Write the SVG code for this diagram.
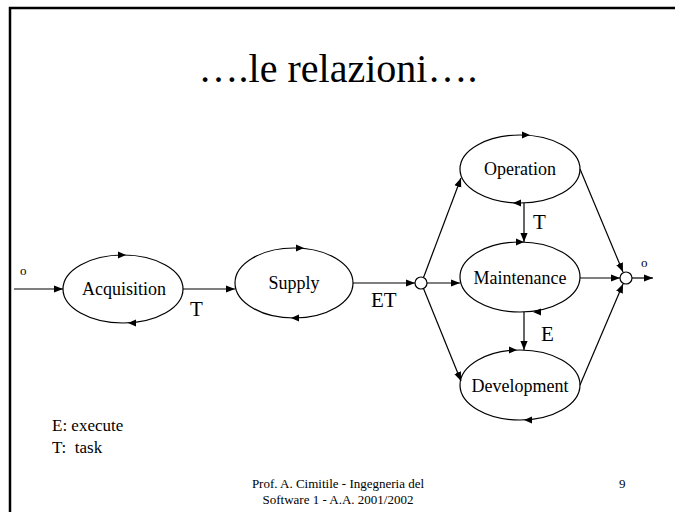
<svg xmlns="http://www.w3.org/2000/svg" width="675" height="512" viewBox="0 0 675 512">
<defs>
<marker id="ah" viewBox="0 0 10 10" refX="10" refY="5" markerWidth="9" markerHeight="9" markerUnits="userSpaceOnUse" orient="auto"><path d="M0,1 L10,5 L0,9 z" fill="#000"/></marker>
</defs>
<style>
.n{fill:#fff;stroke:#000;stroke-width:1.2}
.c{fill:none;stroke:#000;stroke-width:1.2}
text{font-family:'Liberation Serif','Times New Roman','DejaVu Serif',serif;fill:#000;white-space:pre}
.nl{font-size:18px;text-anchor:middle}
.lb{font-size:21px}
.tip{fill:#000}
</style>
<rect width="675" height="512" fill="#fff"/>
<path d="M10,520 L10,8 L680,8" fill="none" stroke="#000" stroke-width="2.5"/>
<text x="338" y="82" font-size="40" text-anchor="middle">….le relazioni….</text>

<g id="acquisition">
<ellipse class="n" cx="123" cy="289" rx="60" ry="34"/>
<path class="tip" d="M126,255 L118,251.5 L118,258.5 z"/>
<path class="tip" d="M128,323 L136,319.5 L136,326.5 z"/>
<text class="nl" x="124" y="295">Acquisition</text>
</g>
<g id="supply">
<ellipse class="n" cx="294" cy="283" rx="59" ry="35"/>
<path class="tip" d="M304,248 L296,244.5 L296,251.5 z"/>
<path class="tip" d="M291,318 L299,314.5 L299,321.5 z"/>
<text class="nl" x="294" y="289">Supply</text>
</g>
<g id="operation">
<ellipse class="n" cx="520" cy="169" rx="60" ry="34"/>
<path class="tip" d="M530,135 L522,131.5 L522,138.5 z"/>
<path class="tip" d="M513,203 L521,199.5 L521,206.5 z"/>
<text class="nl" x="520" y="175">Operation</text>
</g>
<g id="maintenance">
<ellipse class="n" cx="520" cy="277" rx="60" ry="35"/>
<path class="tip" d="M524,242 L516,238.5 L516,245.5 z"/>
<path class="tip" d="M533,312 L541,308.5 L541,315.5 z"/>
<text class="nl" x="520" y="284">Maintenance</text>
</g>
<g id="development">
<ellipse class="n" cx="520" cy="385" rx="60" ry="35"/>
<path class="tip" d="M517,350 L509,346.5 L509,353.5 z"/>
<path class="tip" d="M524,420 L532,416.5 L532,423.5 z"/>
<text class="nl" x="520" y="392">Development</text>
</g>
<g id="junction-in">
<circle class="n" cx="421" cy="283" r="6"/>
</g>
<g id="junction-out">
<circle class="n" cx="626" cy="278" r="6"/>
</g>

<g id="connectors">
<line class="c" x1="14" y1="289" x2="63" y2="289" marker-end="url(#ah)"/>
<line class="c" x1="183" y1="289" x2="235" y2="289" marker-end="url(#ah)"/>
<line class="c" x1="353" y1="283" x2="415" y2="283" marker-end="url(#ah)"/>
<line class="c" x1="427" y1="283" x2="460" y2="283" marker-end="url(#ah)"/>
<line class="c" x1="423.5" y1="277.5" x2="461" y2="178" marker-end="url(#ah)"/>
<line class="c" x1="423.5" y1="288.5" x2="461" y2="381" marker-end="url(#ah)"/>
<line class="c" x1="524" y1="203" x2="524" y2="242" marker-end="url(#ah)"/>
<line class="c" x1="524" y1="312" x2="524" y2="350" marker-end="url(#ah)"/>
<line class="c" x1="580" y1="169" x2="623" y2="272" marker-end="url(#ah)"/>
<line class="c" x1="580" y1="278" x2="620" y2="278" marker-end="url(#ah)"/>
<line class="c" x1="580" y1="385" x2="623" y2="284" marker-end="url(#ah)"/>
<line class="c" x1="632" y1="278" x2="653" y2="278" marker-end="url(#ah)"/>
<text x="20" y="275" font-size="13">o</text>
<text x="641" y="267" font-size="13">o</text>
<text class="lb" x="190" y="316">T</text>
<text class="lb" x="371" y="307">ET</text>
<text class="lb" x="533" y="229">T</text>
<text class="lb" x="541" y="341">E</text>
</g>

<text x="52" y="431" font-size="17">E: execute</text>
<text x="52" y="453" font-size="17">T:  task</text>
<text x="338" y="488" font-size="13" text-anchor="middle">Prof. A. Cimitile - Ingegneria del</text>
<text x="338" y="504" font-size="13" text-anchor="middle">Software 1 - A.A. 2001/2002</text>
<text x="619" y="488" font-size="13">9</text>
</svg>
